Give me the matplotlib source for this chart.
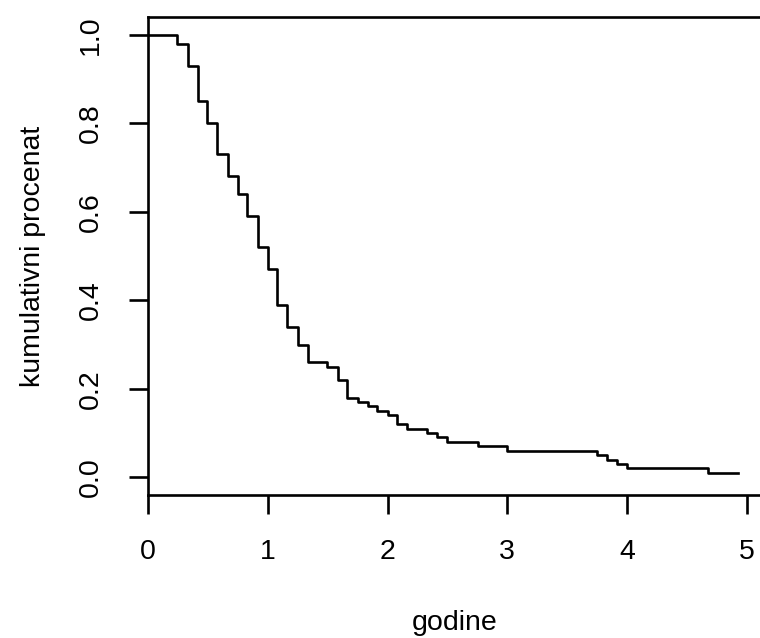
import matplotlib
matplotlib.use("Agg")
import matplotlib.pyplot as plt

plt.rcParams['font.family'] = ['Liberation Sans', 'DejaVu Sans']

# Kaplan-Meier style step curve: time of each drop and level after it
times = [0.0, 0.24, 0.33, 0.415, 0.49, 0.575, 0.665, 0.75, 0.83, 0.915,
         1.0, 1.08, 1.16, 1.25, 1.335, 1.495, 1.585, 1.665, 1.75, 1.835,
         1.915, 2.0, 2.08, 2.165, 2.33, 2.415, 2.5, 2.755, 3.0, 3.75,
         3.835, 3.92, 4.0, 4.675]
surv = [1.0, 0.98, 0.93, 0.85, 0.80, 0.73, 0.68, 0.64, 0.59, 0.52,
        0.47, 0.39, 0.34, 0.30, 0.26, 0.25, 0.22, 0.18, 0.17, 0.16,
        0.15, 0.14, 0.12, 0.11, 0.10, 0.09, 0.08, 0.07, 0.06, 0.05,
        0.04, 0.03, 0.02, 0.01]
t_end = 4.93

xticks = [0, 1, 2, 3, 4, 5]
yticks = [0.0, 0.2, 0.4, 0.6, 0.8, 1.0]

fig = plt.figure(figsize=(7.6, 6.38), dpi=100)
ax = fig.add_axes([148 / 760, 143 / 638, 614 / 760, 478 / 638])

ax.step(times + [t_end], surv + [surv[-1]], where='post', color='black', lw=1.9)

ax.set_xlim(0, t_end * 1.04)
ax.set_ylim(-0.04, 1.04)
ax.set_xticks(xticks)
ax.set_xticklabels([str(v) for v in xticks])
ax.set_yticks(yticks)
ax.set_yticklabels([f"{v:.1f}" for v in yticks], rotation=90, va='center')

for s in ax.spines.values():
    s.set_linewidth(1.9)
ax.tick_params(length=14, width=1.9, labelsize=20.5, colors='black')
ax.tick_params(axis='x', pad=18)
ax.tick_params(axis='y', pad=18)

ax.set_xlabel("godine", fontsize=20.5, labelpad=32)
ax.set_ylabel("kumulativni procenat", fontsize=20.5, labelpad=23)

fig.savefig("out.png", dpi=100)
